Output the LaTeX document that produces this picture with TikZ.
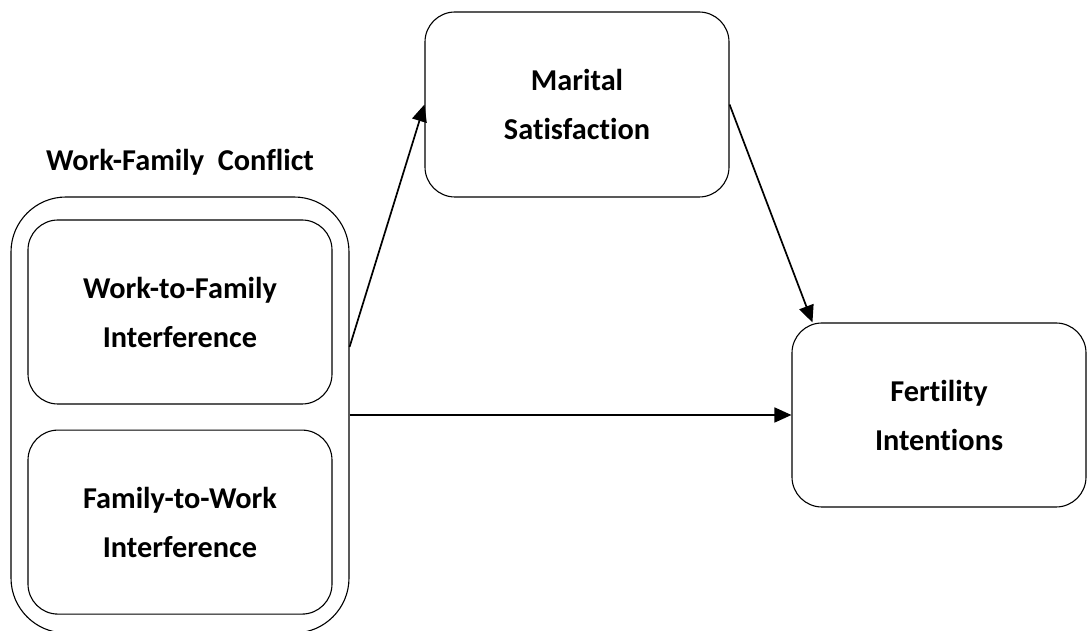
\documentclass[tikz,border=0pt]{standalone}
\usepackage{fontspec}
\setmainfont{Carlito}[Ligatures={NoCommon}]
\usetikzlibrary{positioning,arrows.meta}

\begin{document}
\begin{tikzpicture}[x=1pt, y=1pt, >={Triangle[length=17pt,width=15pt]},
    box/.style={rectangle, rounded corners=30pt, draw, line width=1.1pt, align=center,
      font=\fontsize{30.3}{49}\selectfont\bfseries}]
      \useasboundingbox (0,0) rectangle (1088,631);

      \node[box, minimum width=338pt, minimum height=436pt, rounded corners=55pt] (conflict) at (180,216) {};
      \node[box, minimum width=304pt, minimum height=184pt] (wtf) at (180,319) {Work-to-Family\\Interference};
      \node[box, minimum width=304pt, minimum height=184pt] (ftw) [below = 25pt of wtf] {Family-to-Work\\Interference};
      \node[box, minimum width=304pt, minimum height=185pt] (marital) at (577,526.5) {Marital\\Satisfaction};
      \node[box, minimum width=294pt, minimum height=184pt] (fertility) at (939,216) {Fertility\\Intentions};

      % titulo
      \node[anchor=base, font=\fontsize{30.3}{49}\selectfont\bfseries] (title) at (180,460) {Work-Family~~Conflict};

      \draw[->, line width=1.7pt] ([yshift=68pt]conflict.east) -- (marital.west);
      \draw[->, line width=1.7pt] (marital.east) -- ([xshift=21pt]fertility.north west);
      \draw[->, line width=1.7pt] (conflict.east) -- (fertility.west);
    \end{tikzpicture}
\end{document}
